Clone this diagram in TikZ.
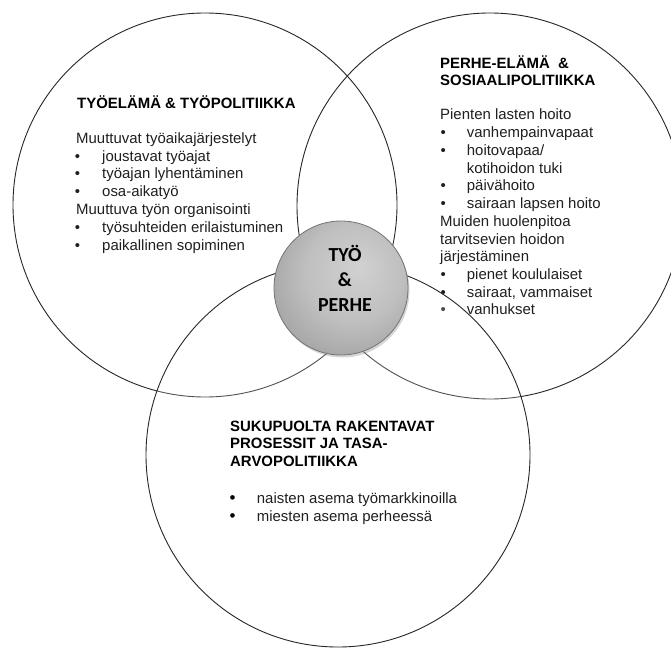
\documentclass[tikz,border=0pt]{standalone}
\usepackage{fontspec}
\setmainfont{Liberation Sans}
\newfontfamily\calib{Carlito}
\pgfdeclareradialshading{softedge}{\pgfpoint{0bp}{0bp}}{color(0bp)=(white); color(45bp)=(white); color(48.5bp)=(black!4); color(50bp)=(black!10)}
\pgfdeclareradialshading{ballgray}{\pgfpoint{7bp}{8bp}}{color(0bp)=(black!18); color(18bp)=(black!25); color(50bp)=(black!50); color(56bp)=(black!55)}
\begin{document}
\begin{tikzpicture}[x=1bp,y=-1bp,
  bigcirc/.style={circle, inner sep=0pt, minimum size=#1},
  ring/.style={circle, inner sep=0pt, minimum size=#1, draw=black!85, line width=0.9bp},
  head/.style={anchor=base west, inner sep=0pt, font=\bfseries\fontsize{15}{17}\selectfont, text=black},
  body/.style={anchor=base west, inner sep=0pt, font=\fontsize{15}{17}\selectfont, text=black!88},
  bul/.style={anchor=base, inner sep=0pt, font=\fontsize{15}{17}\selectfont, text=black!88},
  bigbul/.style={anchor=base, inner sep=0pt, font=\fontsize{17}{17}\selectfont, text=black},
  ctext/.style={anchor=base, inner sep=0pt, font=\calib\bfseries\fontsize{20}{25}\selectfont, text=black}]
\useasboundingbox (0,0) rectangle (671,648);
\clip (0,0) rectangle (671,648);
\fill[white] (0,0) rectangle (671,648);

% left and right circles
\node[bigcirc=384bp, shading=softedge] (Lf) at (205,205) {};
\node[bigcirc=386bp, shading=softedge] (Rf) at (490,206) {};
\node[ring=384bp] (L) at (205,205) {};
\node[ring=386bp] (R) at (490,206) {};

% left text
\node[head] (lh) at (77,108.5) {TYÖELÄMÄ \& TYÖPOLITIIKKA};
\node[body] (l1) at (76,143.3) {Muuttuvat työaikajärjestelyt};
\node[bul]  (lb2) at (77.5,161.15) {•};
\node[body] (l2) at (102,161.15) {joustavat työajat};
\node[bul]  (lb3) at (77.5,179) {•};
\node[body] (l3) at (102,179) {työajan lyhentäminen};
\node[bul]  (lb4) at (77.5,196.85) {•};
\node[body] (l4) at (102,196.85) {osa-aikatyö};
\node[body] (l5) at (76,214.7) {Muuttuva työn organisointi};
\node[bul]  (lb6) at (77.5,232.55) {•};
\node[body] (l6) at (102,232.55) {työsuhteiden erilaistuminen};
\node[bul]  (lb7) at (77.5,250.4) {•};
\node[body] (l7) at (102,250.4) {paikallinen sopiminen};

% right text
\node[head] (rh1) at (440,68.5) {PERHE-ELÄMÄ \ \&};
\node[head] (rh2) at (440,85.5) {SOSIAALIPOLITIIKKA};
\node[body] (r0) at (440,120) {Pienten lasten hoito};
\node[bul]  (rb1) at (443.3,137.7) {•};
\node[body] (r1) at (466.7,137.7) {vanhempainvapaat};
\node[bul]  (rb2) at (443.3,155.4) {•};
\node[body] (r2) at (466.7,155.4) {hoitovapaa/};
\node[body] (r3) at (466.7,173.2) {kotihoidon tuki};
\node[bul]  (rb4) at (443.3,190.9) {•};
\node[body] (r4) at (466.7,190.9) {päivähoito};
\node[bul]  (rb5) at (443.3,208.6) {•};
\node[body] (r5) at (466.7,208.6) {sairaan lapsen hoito};
\node[body] (r6) at (440,226.3) {Muiden huolenpitoa};
\node[body] (r7) at (440,244.0) {tarvitsevien hoidon};
\node[body] (r8) at (440,261.8) {järjestäminen};
\node[bul]  (rb9) at (443.3,279.5) {•};
\node[body] (r9) at (466.7,279.5) {pienet koululaiset};
\node[bul]  (rb10) at (443.3,297.2) {•};
\node[body] (r10) at (466.7,297.2) {sairaat, vammaiset};
\node[bul]  (rb11) at (443.3,314.9) {•};
\node[body] (r11) at (466.7,314.9) {vanhukset};

% bottom circle (semi-transparent)
\node[bigcirc=384bp, shading=softedge, opacity=0.2] (Bf) at (338,455) {};
\node[ring=384bp] (B) at (338,455) {};

% bottom text
\node[head] (bh1) at (230,431) {SUKUPUOLTA RAKENTAVAT};
\node[head] (bh2) at (230,448.5) {PROSESSIT JA TASA-};
\node[head] (bh3) at (230,466) {ARVOPOLITIIKKA};
\node[bigbul] (bb1) at (232.7,503.5) {•};
\node[body]   (b1) at (256.7,503.5) {naisten asema työmarkkinoilla};
\node[bigbul] (bb2) at (232.7,521.9) {•};
\node[body]   (b2) at (256.7,521.9) {miesten asema perheessä};

% centre circle
\node[bigcirc=134bp, fill=black!45, opacity=0.35] (Cs) at (342.5,290.5) {};
\node[bigcirc=134bp, shading=ballgray, draw=black!55, line width=0.8bp] (C) at (341,288) {};
\node[ctext] (c1) at (345,261.5) {TYÖ};
\node[ctext] (c2) at (345,286.5) {\&};
\node[ctext] (c3) at (345,311.5) {PERHE};
\end{tikzpicture}
\end{document}
